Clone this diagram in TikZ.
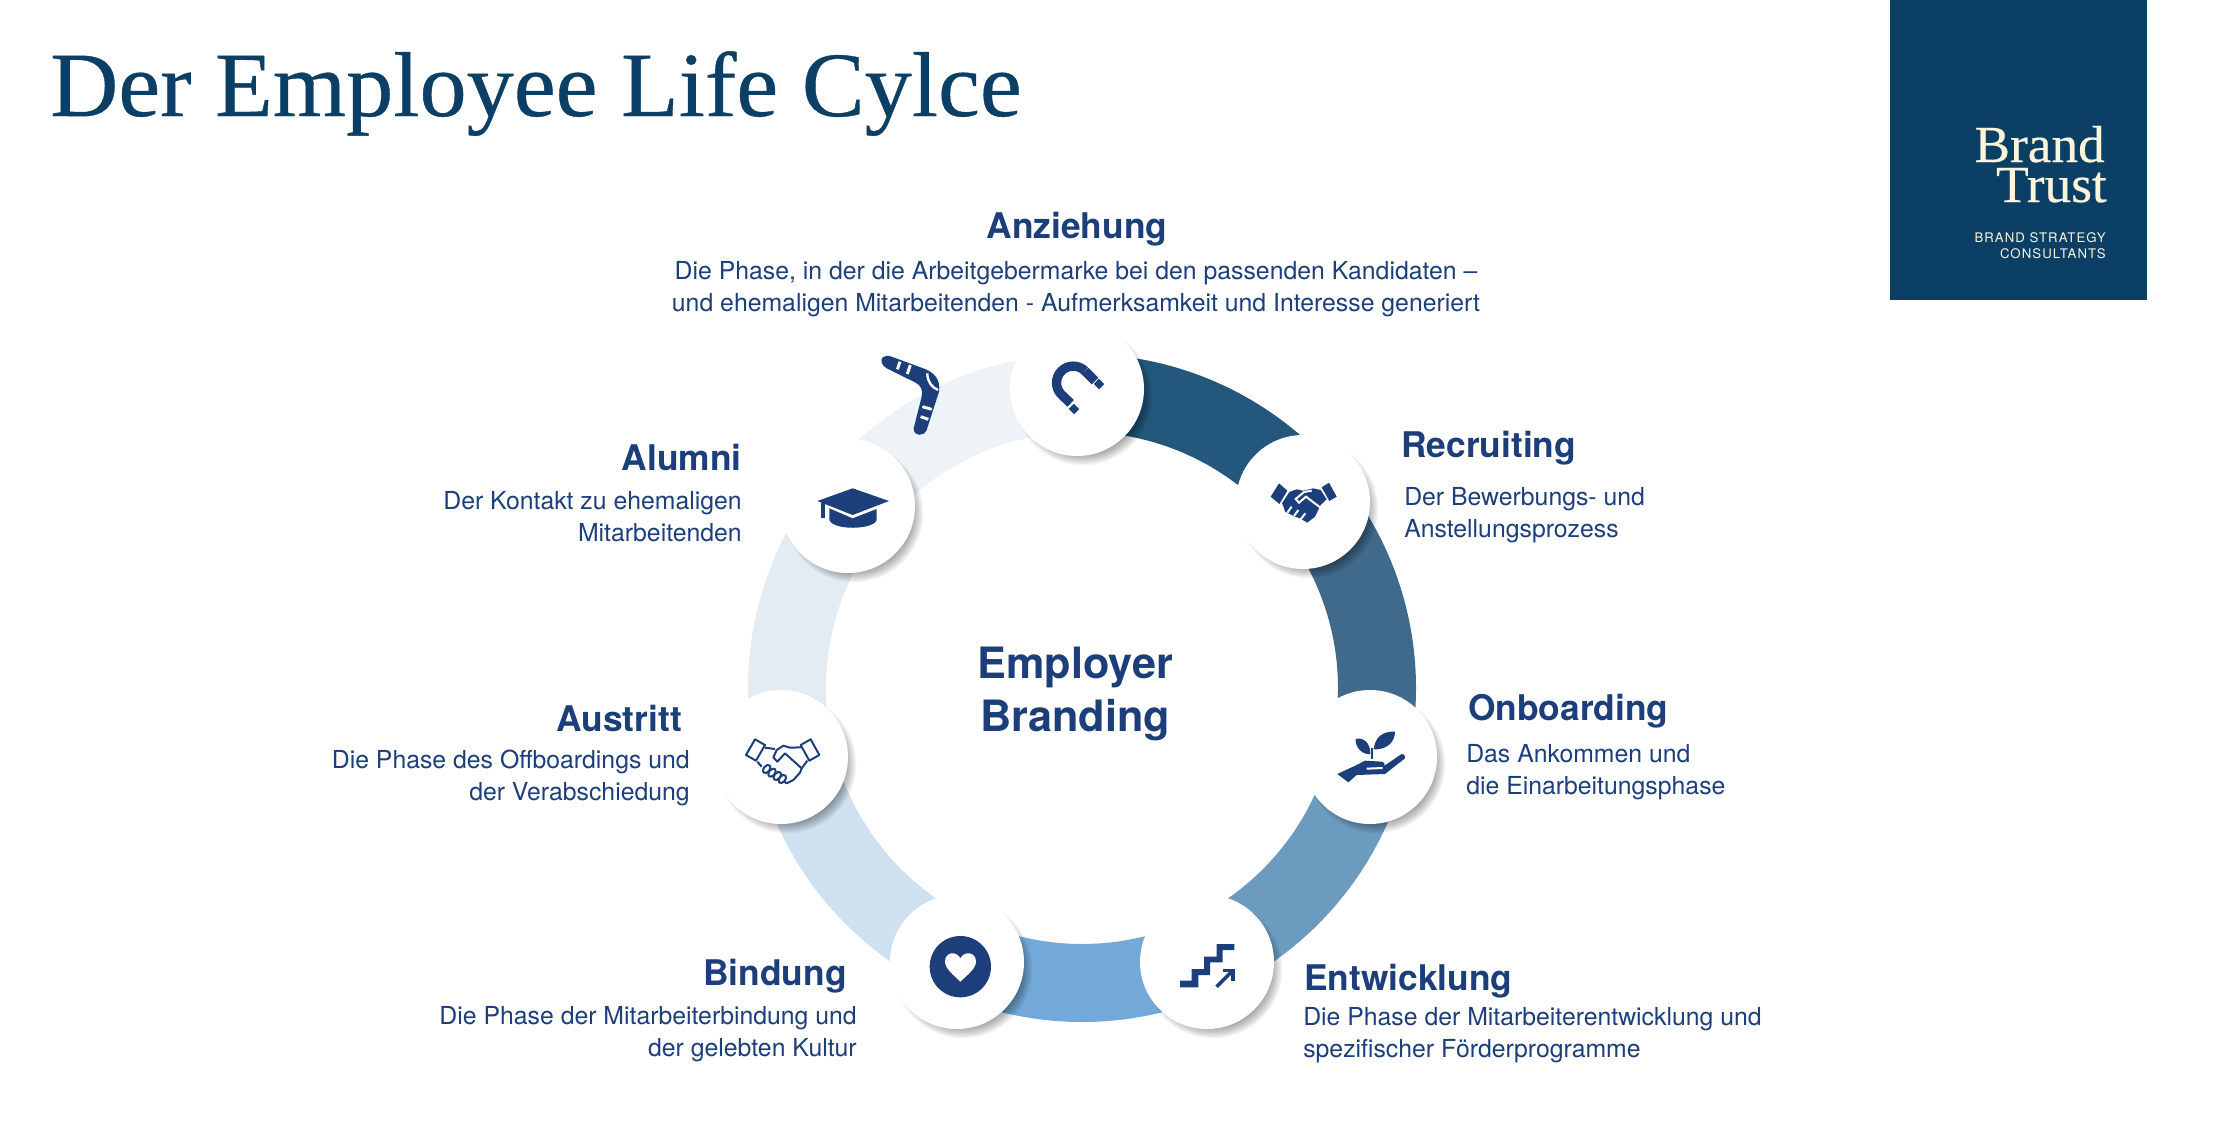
\documentclass[tikz,border=0pt]{standalone}
\usepackage{fontspec}
\setmainfont{TeX Gyre Heros}
\newfontfamily\serifhead[FakeStretch=1.025,FakeBold=0.4]{Liberation Serif}
\newfontfamily\logosmall[LetterSpace=8]{TeX Gyre Heros}

\definecolor{navy}{HTML}{0B3F66}
\definecolor{textblue}{HTML}{1C3F7C}
\definecolor{cream}{HTML}{FBF6D9}

\tikzset{
  phase/.style={circle, fill=white, minimum size=100.5pt, inner sep=0},
  ringseg/.style={line width=58.5pt},
  heading/.style={font=\bfseries\fontsize{26.5}{30}\selectfont, text=textblue, inner sep=0},
  descr/.style={font=\fontsize{18.6}{24}\selectfont, text=textblue, inner sep=0},
  icon/.style={fill=textblue},
  gap/.style={draw=white, line width=1.5pt},
}

\begin{document}
\begin{tikzpicture}[x=0.75pt,y=0.75pt,yscale=-1,xscale=1]

\useasboundingbox (0,0) rectangle (2213,1136);

% title and logo
\node[anchor=base west, inner sep=0, text=navy, font=\serifhead\fontsize{69}{69}\selectfont] (title) at (50,116) {Der Employee Life Cylce};
\fill[navy] (1890,0) rectangle (2147,300);
\node[anchor=base east, inner sep=0, text=cream, font=\serifhead\fontsize{39}{39}\selectfont] (brand) at (2105,162) {Brand};
\node[anchor=base east, inner sep=0, text=cream, font=\serifhead\fontsize{39}{39}\selectfont] (trust) at (2107,202) {Trust};
\node[anchor=base east, inner sep=0, text=cream, font=\logosmall\fontsize{9.9}{12}\selectfont] (strategy) at (2106,242) {BRAND STRATEGY};
\node[anchor=base east, inner sep=0, text=cream, font=\logosmall\fontsize{9.9}{12}\selectfont] (consultants) at (2106,258) {CONSULTANTS};

% ring
\foreach \a/\b/\col in {-91/-40/23577B, -40/13/3F6A8C, 13/65/6B9BBF, 65/115/72A9D8, 115/167/CFE0F1, 167/218/E3EBF3, 218/269/EEF3F8}{
  \definecolor{segcol}{HTML}{\col}
  \draw[ringseg, draw=segcol] (1082,688) ++(\a:295) arc[start angle=\a, end angle=\b, radius=295];
}

% boomerang
\begin{scope}[shift={(850,300)}, scale=1/3]
\fill[icon] (98,172) .. controls (105,165) and (115,167) .. (125,170) -- (220,205) .. controls (255,218) and (272,240) .. (267,275) -- (230,390) .. controls (222,410) and (190,410) .. (191,385) -- (215,290) .. controls (220,270) and (212,255) .. (195,247) -- (110,205) .. controls (95,197) and (90,180) .. (98,172) -- cycle;
\draw[white, line width=2.2pt] (150,185) -- (142,208);
\draw[white, line width=2.2pt] (181,195) -- (172,222);
\draw[white, line width=2.2pt] (217,320) -- (245,328);
\draw[white, line width=2.2pt] (212,350) -- (235,358);
\draw[white, line width=1.8pt] (232,220) .. controls (232,245) and (245,262) .. (264,270);
\end{scope}

% phase circles
\foreach \name/\cx/\cy in {magnet/1077/389, recruit/1303/502, onboard/1370/757, develop/1207/962, bond/957/962, leave/781/757, alumnus/848/506}{
  \foreach \s in {0,...,9}
    \fill[black, opacity=0.045] (\cx+6,\cy+7) circle ({58+\s*1.25});
  \node[phase] (\name) at (\cx,\cy) {};
}

% magnet
\begin{scope}[shift={(850,300)}, scale=1/3]
\draw[textblue, line width=7pt] (705,213) -- (735,243);
\draw[textblue, line width=7pt] (705,213) arc[start angle=-45, end angle=-225, radius=50] -- (662,310);
\draw[textblue, line width=5.5pt] (739,244) -- (755,260);
\draw[textblue, line width=5.5pt] (664,319) -- (680,335);
\end{scope}

% recruiting handshake
\begin{scope}[shift={(1200,400)}, scale=1/3]
\fill[icon] (212,290) -- (237,250) -- (262,272) -- (238,312) -- cycle;
\fill[icon] (365,262) -- (387,248) -- (410,290) -- (388,303) -- cycle;
\fill[icon] (268,276) -- (290,268) -- (310,272) -- (340,265) -- (362,270) -- (380,298) -- (362,315) -- (345,350) -- (322,368) -- (300,355) -- (285,350) -- (255,335) -- (250,318) -- (246,310) -- cycle;
\draw[gap] (335,272) -- (312,276) -- (287,297) -- (297,308) -- (318,290) -- (360,322);
\draw[gap] (262,338) -- (275,320);
\draw[gap] (282,348) -- (295,330);
\draw[gap] (302,358) -- (316,340);
\end{scope}

% onboarding plant
\begin{scope}[shift={(1200,400)}, scale=1/3]
\fill[icon] (412,1122) -- (470,1095) -- (495,1082) -- (545,1085) .. controls (555,1088) and (555,1094) .. (553,1097) -- (605,1062) .. controls (612,1060) and (618,1068) .. (615,1075) -- (555,1122) -- (470,1125) -- (445,1147) -- cycle;
\draw[gap] (500,1106) -- (548,1104);
\fill[icon] (467,1017) .. controls (490,1010) and (512,1030) .. (511,1062) .. controls (490,1065) and (465,1045) .. (467,1017) -- cycle;
\fill[icon] (585,995) .. controls (550,993) and (525,1010) .. (521,1048) .. controls (555,1050) and (585,1030) .. (585,995) -- cycle;
\draw[textblue, line width=1.5pt] (516,1045) -- (516,1078);
\end{scope}

% development stairs
\begin{scope}[shift={(1100,860)}, scale=1/3]
\fill[icon] (240,362) -- (275,362) -- (275,327) -- (312,327) -- (312,290) -- (350,290) -- (350,252) -- (403,252) -- (403,270) -- (368,270) -- (368,307) -- (330,307) -- (330,345) -- (295,345) -- (295,382) -- (240,382) -- cycle;
\draw[textblue, line width=2.6pt] (350,380) -- (398,332);
\draw[textblue, line width=2.6pt] (368,331) -- (399,331) -- (399,362);
\end{scope}

% heart
\begin{scope}[shift={(700,680)}, scale=1/3]
\fill[icon] (781,860) circle (92);
\fill[white] (781,905) .. controls (760,885) and (735,865) .. (735,845) .. controls (735,815) and (770,812) .. (781,835) .. controls (792,812) and (828,815) .. (828,845) .. controls (828,865) and (802,885) .. (781,905) -- cycle;
\end{scope}

% outline handshake
\begin{scope}[shift={(720,720)}, scale=1/3, textblue, line width=1.5pt, line join=round]
\draw (78,105) -- (105,58) -- (135,75) -- (108,122) -- cycle;
\draw (242,75) -- (272,58) -- (298,105) -- (268,122) -- cycle;
\draw (135,83) -- (165,87);
\draw (243,82) -- (210,83) -- (190,77) -- (170,90) -- (160,112) -- (172,125) -- (195,100) -- (245,145) -- (240,158) -- (220,180) -- (200,190) -- (192,184);
\draw (262,122) -- (245,145);
\draw (112,125) -- (125,140);
\foreach \fx/\fy in {140/147, 156/158, 172/168, 187/177}
  \draw[rotate around={-50:(\fx,\fy)}, fill=white] (\fx,\fy) ellipse[x radius=14, y radius=9];
\end{scope}

% graduation cap
\begin{scope}[shift={(780,440)}, scale=1/3]
\fill[icon] (112,183) -- (218,145) -- (327,183) -- (218,225) -- cycle;
\fill[icon] (122,188) -- (134,188) -- (134,235) -- (122,235) -- cycle;
\fill[icon] (148,205) -- (218,235) -- (290,207) -- (290,240) .. controls (280,270) and (160,272) .. (148,240) -- cycle;
\end{scope}

% texts
\node[heading, font=\bfseries\fontsize{32.4}{40}\selectfont, align=center] (employer) at (1075,694) {Employer\\Branding};

\node[heading] (anziehung) at (1077,229) {Anziehung};
\node[descr, align=center] (anziehungtext) at (1076,289) {Die Phase, in der die Arbeitgebermarke bei den passenden Kandidaten –\\und ehemaligen Mitarbeitenden - Aufmerksamkeit und Interesse generiert};

\node[heading, anchor=west] (recruiting) at (1401,448) {Recruiting};
\node[descr, anchor=west, align=left] (recruitingtext) at (1404,515) {Der Bewerbungs- und\\Anstellungsprozess};

\node[heading, anchor=west] (onboarding) at (1468,711) {Onboarding};
\node[descr, anchor=west, align=left] (onboardingtext) at (1466,772) {Das Ankommen und\\die Einarbeitungsphase};

\node[heading, anchor=west] (entwicklung) at (1304,981) {Entwicklung};
\node[descr, anchor=west, align=left] (entwicklungtext) at (1303,1035) {Die Phase der Mitarbeiterentwicklung und\\spezifischer Förderprogramme};

\node[heading, anchor=east] (bindung) at (847,976) {Bindung};
\node[descr, anchor=east, align=right] (bindungtext) at (857,1034) {Die Phase der Mitarbeiterbindung und\\der gelebten Kultur};

\node[heading, anchor=east] (austritt) at (682,718) {Austritt};
\node[descr, anchor=east, align=right] (austritttext) at (690,778) {Die Phase des Offboardings und\\der Verabschiedung};

\node[heading, anchor=east] (alumni) at (742,457) {Alumni};
\node[descr, anchor=east, align=right] (alumnitext) at (742,517) {Der Kontakt zu ehemaligen\\Mitarbeitenden};

\end{tikzpicture}
\end{document}
